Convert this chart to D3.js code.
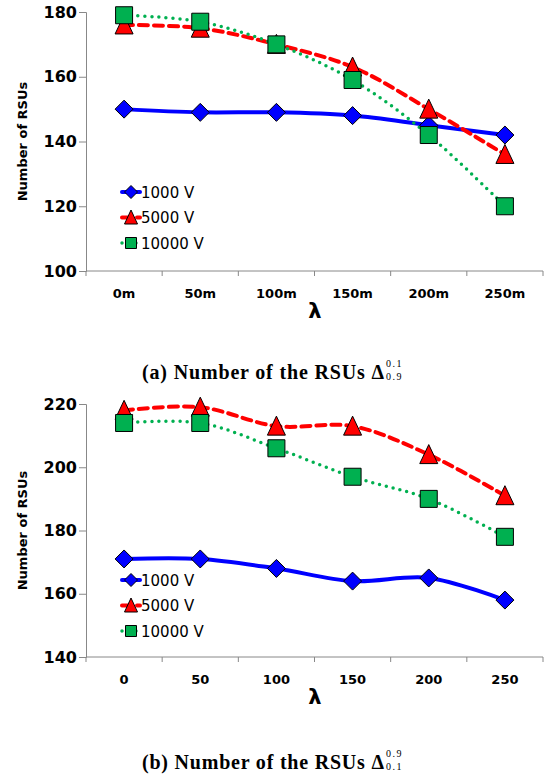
<!DOCTYPE html>
<html>
<head>
<meta charset="utf-8">
<script src="https://cdn.jsdelivr.net/npm/d3@7"></script>
<style>
  body { margin: 0; background: #fff; }
  svg { display: block; }
</style>
</head>
<body>
<div id="chart"></div>
<script>
// data
const seriesNames = ['1000 V', '5000 V', '10000 V'];
const topLabels = ['0m', '50m', '100m', '150m', '200m', '250m'];
const bottomLabels = ['0', '50', '100', '150', '200', '250'];

const top1000 = [150, 149, 149, 148, 145, 142];
const top5000 = [176, 175, 170, 163, 150, 136];
const top10000 = [179, 177, 170, 159, 142, 120];

const bot1000 = [171, 171, 168, 164, 165, 158];
const bot5000 = [218, 219, 213, 213, 204, 191];
const bot10000 = [214, 214, 206, 197, 190, 178];

const topTicks = [100, 120, 140, 160, 180];
const botTicks = [140, 160, 180, 200, 220];

const styles = [
  {color: '#0000ff', dash: null, cap: 'round', width: 4, shape: 'diamond'},
  {color: '#ff0000', dash: '9,6', cap: 'round', width: 4, shape: 'triangle'},
  {color: '#00b050', dash: '0,7', cap: 'round', width: 3.5, shape: 'square'}
];

const sans = 'DejaVu Sans, sans-serif';
const serif = 'Liberation Serif, serif';
const W = 550, H = 780;
const svg = d3.select('#chart').append('svg')
  .attr('width', W).attr('height', H);

function marker(sel, shape, size) {
  const h = size / 2;
  let d;
  if (shape === 'diamond') d = `M0,${-h}L${h},0L0,${h}L${-h},0Z`;
  else if (shape === 'triangle') d = `M0,${-h - 1}L${h},${h}L${-h},${h}Z`;
  else d = `M${-h},${-h}H${h}V${h}H${-h}Z`;
  return sel.attr('d', d);
}

function drawPanel(cfg) {
  const g = svg.append('g');
  const x = d3.scaleBand().domain(cfg.labels).range([86, 543]);
  const y = d3.scaleLinear().domain(cfg.domain).range([cfg.bottom, cfg.top]);

  // axes
  const yAxis = d3.axisLeft(y).tickValues(cfg.ticks).tickSize(7).tickPadding(2);
  const ya = g.append('g').attr('transform', 'translate(86,0)').call(yAxis);
  ya.select('.domain').attr('stroke', '#888').attr('stroke-width', 1);
  ya.selectAll('.tick line').attr('stroke', '#888');
  ya.selectAll('text').attr('font-family', sans).attr('font-weight', 'bold')
    .attr('font-size', 16).attr('fill', '#000');

  const xa = g.append('g').attr('transform', `translate(0,${cfg.bottom})`);
  xa.append('line').attr('x1', 86).attr('x2', 543).attr('stroke', '#888');
  const bounds = cfg.labels.map(l => x(l)).concat([x.range()[1]]);
  xa.selectAll('.tk').data(bounds).join('line')
    .attr('x1', d => d).attr('x2', d => d).attr('y1', 0).attr('y2', 5).attr('stroke', '#888');
  xa.selectAll('.lbl').data(cfg.labels).join('text')
    .attr('x', d => x(d) + x.bandwidth() / 2).attr('y', 27)
    .attr('text-anchor', 'middle')
    .attr('font-family', sans).attr('font-weight', 'bold').attr('font-size', 13)
    .text(d => d);

  // axis titles
  g.append('text')
    .attr('transform', `translate(27,${(cfg.top + cfg.bottom) / 2}) rotate(-90)`)
    .attr('text-anchor', 'middle')
    .attr('font-family', sans).attr('font-weight', 'bold').attr('font-size', 13)
    .text('Number of RSUs');
  g.append('text')
    .attr('x', 315).attr('y', cfg.bottom + 47)
    .attr('text-anchor', 'middle')
    .attr('font-family', sans).attr('font-weight', 'bold').attr('font-size', 21)
    .text('λ');

  const line = d3.line()
    .x((d, i) => x(cfg.labels[i]) + x.bandwidth() / 2)
    .y(d => y(d))
    .curve(d3.curveCatmullRom.alpha(0.5));

  cfg.series.forEach((vals, s) => {
    const st = styles[s];
    g.append('path').datum(vals)
      .attr('d', line).attr('fill', 'none')
      .attr('stroke', st.color).attr('stroke-width', st.width)
      .attr('stroke-linecap', st.cap)
      .attr('stroke-dasharray', st.dash);
  });
  cfg.series.forEach((vals, s) => {
    const st = styles[s];
    g.selectAll(null).data(vals).join('path')
      .attr('transform', (d, i) => `translate(${x(cfg.labels[i]) + x.bandwidth() / 2},${y(d)})`)
      .call(sel => marker(sel, st.shape, st.shape === 'square' ? 17 : 18))
      .attr('fill', st.color).attr('stroke', '#000').attr('stroke-width', 1);
  });

  // legend
  const lg = g.append('g');
  seriesNames.forEach((name, s) => {
    const st = styles[s];
    const ly = cfg.legendY + s * 25.5;
    lg.append('line').attr('x1', 122).attr('x2', 140).attr('y1', ly).attr('y2', ly)
      .attr('stroke', st.color).attr('stroke-width', st.width)
      .attr('stroke-linecap', st.cap).attr('stroke-dasharray', st.dash);
    lg.append('path').attr('transform', `translate(131,${ly})`)
      .call(sel => marker(sel, st.shape, st.shape === 'square' ? 11 : 13))
      .attr('fill', st.color).attr('stroke', '#000').attr('stroke-width', 1);
    lg.append('text').attr('x', 141).attr('y', ly + 5.5)
      .attr('font-family', sans).attr('font-size', 15)
      .text(name);
  });

  // caption, then stacked super/subscript placed after it
  const capX = 142, capW = 242;
  g.append('text')
    .attr('x', capX).attr('y', cfg.captionY)
    .attr('font-family', serif).attr('font-weight', 'bold').attr('font-size', 20)
    .attr('textLength', capW).attr('lengthAdjust', 'spacing')
    .text(cfg.caption + ' Δ');
  g.append('text')
    .attr('x', capX + capW + 2).attr('y', cfg.captionY - 12)
    .attr('font-family', serif).attr('font-size', 10).attr('letter-spacing', 1.5)
    .text(cfg.sup);
  g.append('text')
    .attr('x', capX + capW + 2).attr('y', cfg.captionY + 1)
    .attr('font-family', serif).attr('font-size', 10).attr('letter-spacing', 1.5)
    .text(cfg.sub);
}

drawPanel({
  labels: topLabels, domain: [100, 180], ticks: topTicks,
  top: 12, bottom: 271, legendY: 192, captionY: 379,
  series: [top1000, top5000, top10000],
  caption: '(a) Number of the RSUs', sup: '0.1', sub: '0.9'
});
drawPanel({
  labels: bottomLabels, domain: [140, 220], ticks: botTicks,
  top: 404, bottom: 657, legendY: 580, captionY: 769,
  series: [bot1000, bot5000, bot10000],
  caption: '(b) Number of the RSUs', sup: '0.9', sub: '0.1'
});
</script>
</body>
</html>
